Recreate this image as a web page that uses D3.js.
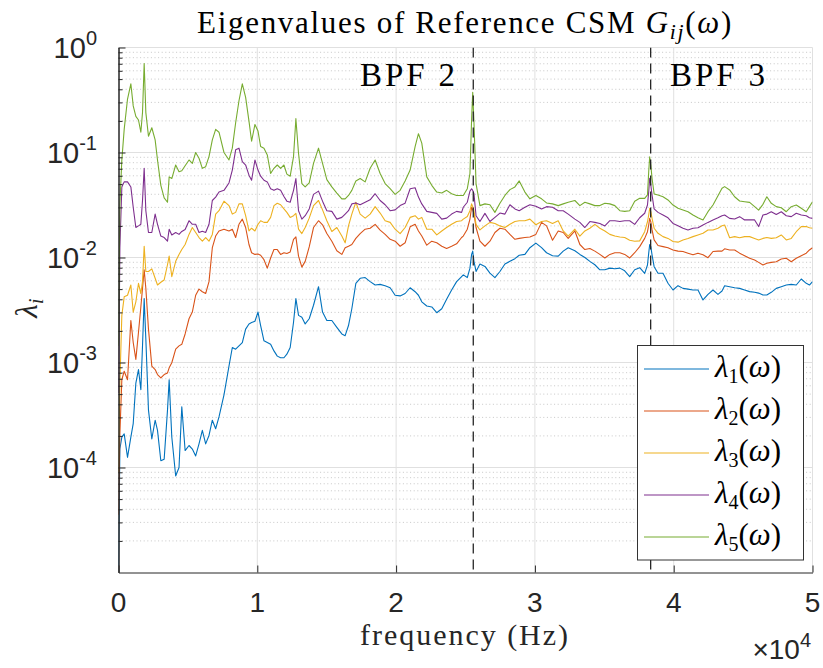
<!DOCTYPE html>
<html><head><meta charset="utf-8">
<script src="https://cdn.jsdelivr.net/npm/d3@7"></script>
<style>body{margin:0;background:#fff}</style>
</head><body>
<svg id="chart" width="823" height="668" xmlns="http://www.w3.org/2000/svg"></svg>
<script>
// ---------- DATA ----------
const freqHz = [0,100,240,410,650,890,1060,1250,1440,1610,1730,1850,1970,2160,2400,2640,2810,3050,3290,3530,3650,3840,4120,4360,4560,4800,5080,5320,5560,5800,6040,6280,6520,6760,7000,7240,7600,7960,8200,8440,8680,8920,9160,9400,9590,9830,10050,10240,10480,10720,10960,11200,11440,11680,11920,
12130,12370,12610,12780,12970,13210,13450,13740,14050,14410,14700,15010,15370,15730,16090,16330,16570,16810,17100,17410,17770,18130,18490,18850,19210,19570,19930,20290,20650,21010,21370,21610,21850,22210,22570,22930,23290,23640,24000,24360,24720,
24840,25130,25320,25440,25520,25610,25760,26040,26400,26760,27120,27480,27840,28200,28560,28870,29280,29640,30070,30480,30840,31270,31680,32040,32400,32880,33240,33600,33960,34320,34680,35040,35400,35760,36120,36470,36830,37190,
37550,37910,38110,38200,38270,38350,38440,38590,38870,39230,39590,39950,40310,40670,41030,41390,41750,42110,42470,42830,43190,43480,43670,44030,44390,44750,45110,45470,45830,46120,46430,46710,47030,47390,47750,48110,48470,48830,49190,49550,49780,50000];

const lambda1 = [0.0000116,0.00015,0.000195,0.000209,0.000125,0.000195,0.000262,0.000637,0.000857,0.00055,0.00144,0.00406,0.00167,0.000352,0.000187,0.000282,0.000226,0.000116,0.00012,0.000352,0.000685,0.000195,0.000083,0.0001,0.000379,0.000145,0.000162,0.00015,0.000129,0.000168,0.000226,0.000168,0.000202,0.000282,0.000234,0.000303,0.000492,0.000923,0.00139,0.00134,0.00144,0.00155,0.00208,0.00233,0.0024,0.00247,0.00302,0.00225,0.00161,0.00155,0.00149,0.00129,0.00115,0.00111,0.00111,
0.0012,0.00139,0.00242,0.00406,0.00281,0.0027,0.00233,0.00261,0.00351,0.00527,0.00302,0.00251,0.00251,0.00216,0.00187,0.0018,0.00225,0.00325,0.00568,0.00634,0.00644,0.00589,0.00547,0.00555,0.00538,0.00515,0.00437,0.00431,0.00454,0.00515,0.00472,0.00437,0.00378,0.00345,0.00338,0.00298,0.00325,0.00401,0.0049,0.00589,0.00658,
0.00683,0.00644,0.00792,0.0107,0.0115,0.00919,0.00736,0.00866,0.00822,0.0071,0.00644,0.00736,0.00866,0.00919,0.00975,0.0105,0.0107,0.0124,0.0137,0.0124,0.0111,0.0104,0.0103,0.0115,0.0124,0.0116,0.0107,0.01,0.00919,0.00853,0.00764,0.00764,0.00792,0.0078,0.00792,0.00747,0.00658,0.00764,
0.008,0.00707,0.00848,0.011,0.0133,0.0127,0.0106,0.00818,0.00707,0.00707,0.00568,0.0049,0.00539,0.00508,0.005,0.0049,0.0049,0.00394,0.00446,0.0049,0.00446,0.0048,0.00539,0.00527,0.00516,0.00508,0.0049,0.00473,0.00466,0.00458,0.0044,0.0044,0.00466,0.00508,0.00527,0.00547,0.00555,0.00547,0.00624,0.00568,0.00547,0.00589];

const lambda2 = [0.0000354,0.000209,0.000685,0.000826,0.000685,0.00251,0.00155,0.00107,0.00194,0.00338,0.00508,0.00764,0.00508,0.00208,0.000923,0.000857,0.000767,0.000713,0.000767,0.000796,0.000889,0.000994,0.00134,0.00144,0.00149,0.00187,0.00261,0.00302,0.00437,0.005,0.00472,0.00454,0.00589,0.0124,0.016,0.0179,0.0186,0.0179,0.0186,0.0155,0.0207,0.0232,0.0193,0.0133,0.0111,0.0107,0.0108,0.0105,0.00953,0.00792,0.0099,0.0119,0.0119,0.0107,0.0111,
0.0109,0.0113,0.0149,0.0157,0.0103,0.0081,0.00919,0.0126,0.0193,0.0224,0.0205,0.0169,0.0143,0.0116,0.0107,0.0124,0.0128,0.0133,0.0152,0.0169,0.0186,0.019,0.0207,0.0182,0.0166,0.0149,0.0143,0.0128,0.0138,0.0196,0.0207,0.0179,0.016,0.0131,0.0143,0.0138,0.0128,0.0122,0.0128,0.0135,0.0155,
0.016,0.0186,0.0232,0.0301,0.0284,0.0259,0.0193,0.0143,0.0128,0.0143,0.0173,0.019,0.0186,0.0166,0.0149,0.0152,0.0155,0.0157,0.0166,0.0216,0.02,0.0146,0.0179,0.0173,0.0152,0.0179,0.0133,0.0119,0.0122,0.0115,0.0107,0.0099,0.0107,0.0111,0.0111,0.0107,0.0099,0.0111,
0.0127,0.0152,0.0176,0.0204,0.0236,0.0219,0.0183,0.0147,0.013,0.0127,0.0124,0.0118,0.0115,0.0114,0.011,0.0106,0.011,0.0106,0.00996,0.0114,0.0115,0.0115,0.0121,0.0118,0.0118,0.011,0.0104,0.00982,0.00947,0.00899,0.00848,0.0088,0.00899,0.00912,0.00968,0.00982,0.00912,0.00982,0.0104,0.011,0.0118,0.0124];

const lambda3 = [0.0000893,0.000637,0.00281,0.00422,0.00437,0.00547,0.00302,0.00378,0.00568,0.00454,0.00589,0.0128,0.00736,0.00736,0.0078,0.00634,0.00547,0.00581,0.00611,0.00853,0.0103,0.00658,0.00919,0.0107,0.0119,0.0133,0.0166,0.0193,0.0173,0.0155,0.0143,0.0155,0.0143,0.0166,0.0259,0.0279,0.0344,0.0312,0.0259,0.0269,0.0324,0.0324,0.025,0.0179,0.019,0.0179,0.0207,0.0224,0.0216,0.0216,0.0241,0.0312,0.0329,0.0318,0.029,
0.0269,0.0241,0.025,0.0263,0.0186,0.0169,0.0193,0.0237,0.0312,0.0349,0.0284,0.0224,0.0177,0.0193,0.016,0.0138,0.02,0.0259,0.0336,0.0259,0.0237,0.0259,0.0305,0.0265,0.0224,0.0216,0.0186,0.0169,0.0193,0.0241,0.025,0.0232,0.0241,0.0186,0.0186,0.0164,0.0179,0.0193,0.0207,0.022,0.0224,
0.0232,0.0246,0.0279,0.0324,0.0305,0.0279,0.0207,0.0183,0.02,0.0216,0.0211,0.02,0.0193,0.0207,0.022,0.0224,0.0224,0.0232,0.0205,0.022,0.0224,0.0211,0.0224,0.0179,0.016,0.0186,0.016,0.0179,0.019,0.0207,0.019,0.0179,0.0166,0.016,0.0157,0.0155,0.0146,0.0143,
0.0144,0.0176,0.0219,0.0254,0.0294,0.0273,0.0236,0.019,0.017,0.0158,0.0152,0.0142,0.014,0.0147,0.0152,0.0158,0.0164,0.017,0.0183,0.0183,0.019,0.0201,0.0204,0.0154,0.0158,0.0154,0.0158,0.0158,0.0152,0.0147,0.0152,0.0155,0.0152,0.0154,0.0164,0.0147,0.0152,0.0176,0.0197,0.0197,0.0192,0.019];

const lambda4 = [0.000511,0.0124,0.047,0.0525,0.0525,0.047,0.0301,0.0193,0.02,0.0207,0.0349,0.0707,0.0279,0.0173,0.0173,0.0259,0.0207,0.016,0.0155,0.0143,0.0186,0.0164,0.0173,0.0166,0.0177,0.0185,0.0224,0.0207,0.0207,0.0173,0.0178,0.0173,0.0207,0.0349,0.0376,0.042,0.0436,0.0513,0.068,0.106,0.11,0.0819,0.076,0.0608,0.0544,0.0849,0.068,0.0595,0.0544,0.0525,0.0452,0.0436,0.0452,0.0436,0.0381,
0.0344,0.0336,0.0436,0.0565,0.0279,0.0232,0.025,0.029,0.0399,0.0429,0.0344,0.0279,0.0275,0.0232,0.0241,0.0259,0.0279,0.0324,0.0331,0.0318,0.0336,0.0354,0.0405,0.0349,0.0318,0.0279,0.0284,0.0312,0.0329,0.0452,0.0462,0.0376,0.0324,0.0275,0.0269,0.0263,0.0232,0.0237,0.0259,0.0275,0.0269,
0.0301,0.0336,0.0429,0.0452,0.0436,0.0405,0.025,0.022,0.0263,0.022,0.0241,0.0265,0.0259,0.0318,0.029,0.0279,0.0301,0.0318,0.0308,0.029,0.0305,0.0301,0.0279,0.0279,0.0259,0.0232,0.0216,0.0193,0.022,0.0216,0.0211,0.02,0.0224,0.0224,0.022,0.0224,0.0224,0.0207,
0.0239,0.0264,0.0316,0.0424,0.0568,0.049,0.0394,0.029,0.0269,0.0254,0.0239,0.0211,0.0201,0.019,0.0183,0.019,0.0192,0.0204,0.0216,0.0228,0.0239,0.025,0.0254,0.0236,0.0233,0.0245,0.0228,0.0228,0.0228,0.0197,0.0254,0.0259,0.0273,0.0257,0.0273,0.025,0.0245,0.0264,0.0254,0.025,0.0239,0.0236];

const lambda5 = [0.00144,0.0324,0.0849,0.166,0.323,0.451,0.278,0.221,0.204,0.156,0.24,0.703,0.24,0.143,0.172,0.132,0.0849,0.0487,0.037,0.0336,0.0586,0.0565,0.076,0.0655,0.067,0.0748,0.0849,0.0789,0.1,0.0881,0.0707,0.0733,0.0915,0.132,0.166,0.156,0.1,0.0849,0.11,0.192,0.311,0.451,0.335,0.199,0.128,0.185,0.16,0.114,0.11,0.0949,0.0631,0.0707,0.076,0.0707,0.076,
0.0622,0.0595,0.0915,0.21,0.0985,0.0506,0.047,0.0513,0.0789,0.11,0.0789,0.0552,0.047,0.0411,0.0362,0.0362,0.039,0.0436,0.0536,0.0565,0.0525,0.0707,0.0849,0.0631,0.0506,0.0452,0.0399,0.0436,0.0536,0.068,0.114,0.151,0.123,0.0586,0.0487,0.042,0.0411,0.0436,0.0405,0.039,0.039,
0.039,0.0452,0.0631,0.207,0.374,0.192,0.0506,0.0312,0.0324,0.0318,0.0269,0.0329,0.039,0.0443,0.047,0.0536,0.042,0.0362,0.039,0.0362,0.0331,0.0324,0.0312,0.0324,0.0336,0.0349,0.0312,0.0336,0.0324,0.0312,0.0312,0.0329,0.0324,0.0312,0.0279,0.0275,0.0279,0.0344,
0.0366,0.0366,0.0394,0.0657,0.0912,0.076,0.0568,0.0403,0.0394,0.0379,0.0353,0.0316,0.0294,0.0283,0.0273,0.0254,0.0239,0.0228,0.0273,0.0316,0.0388,0.0456,0.0473,0.044,0.0379,0.0345,0.034,0.0335,0.0305,0.0283,0.0321,0.0379,0.0328,0.0305,0.0298,0.0273,0.0305,0.0316,0.0294,0.0273,0.0305,0.034];

const seriesValues = [lambda1, lambda2, lambda3, lambda4, lambda5];
const seriesSubscripts = ["1","2","3","4","5"];
const seriesColors = ["#0072BD","#D95319","#EDB120","#7E2F8E","#77AC30"];
const bpfFreqs = [25560, 38340];
const bpfLabels = ["BPF 2", "BPF 3"];
const xTicks = [0, 10000, 20000, 30000, 40000, 50000];
const xTickLabels = ["0","1","2","3","4","5"];
const yTicks = [1e-4, 1e-3, 1e-2, 1e-1, 1];
const yTickExponents = ["-4","-3","-2","-1","0"];

// ---------- CHART ----------
const svg = d3.select("#chart");
const serif = "'Liberation Serif','Times New Roman',serif";
const sans = "'Liberation Sans',Arial,Helvetica,sans-serif";
const L = 118.5, R = 812.5, T = 47.5, B = 572.5;
const x = d3.scaleLinear().domain([0, 50000]).range([L, R]);
const y = d3.scaleLog().domain([1e-5, 1]).range([B, T]);

// scale font so the text reaches a target width
function fitWidth(sel, target, maxSize) {
  const w = sel.node().getBBox().width;
  const fs = parseFloat(sel.attr("font-size"));
  if (w > 0) sel.attr("font-size", Math.min(maxSize || 99, fs * target / w));
}
// then widen the remainder by letter spacing
function fitSpacing(sel, target) {
  const w = sel.node().getBBox().width;
  const n = sel.text().length;
  if (w > 0 && w < target) sel.attr("letter-spacing", ((target - w) / n).toFixed(2));
}

// minor grid values (positions of log minor ticks)
const minorVals = [];
y.ticks().forEach(v => { const m = Math.round(v / Math.pow(10, Math.floor(Math.log10(v) + 1e-9))); if (m !== 1) minorVals.push(v); });

const grid = svg.append("g");
grid.selectAll("line.ymin").data(minorVals).join("line")
  .attr("x1", L).attr("x2", R).attr("y1", d => y(d)).attr("y2", d => y(d))
  .attr("stroke", "#c2c2c2").attr("stroke-width", 0.9).attr("stroke-dasharray", "1,2.6");
grid.selectAll("line.ymaj").data(yTicks).join("line")
  .attr("x1", L).attr("x2", R).attr("y1", d => y(d)).attr("y2", d => y(d))
  .attr("stroke", "#e0e0e0").attr("stroke-width", 1);
grid.selectAll("line.xmaj").data(xTicks.slice(1)).join("line")
  .attr("y1", T).attr("y2", B).attr("x1", d => x(d)).attr("x2", d => x(d))
  .attr("stroke", "#e0e0e0").attr("stroke-width", 1);

// clip
svg.append("defs").append("clipPath").attr("id", "clip").append("rect")
  .attr("x", L).attr("y", T).attr("width", R - L).attr("height", B - T);

const line = d3.line().x(d => x(d[0])).y(d => y(d[1]));
const plot = svg.append("g").attr("clip-path", "url(#clip)");
seriesValues.forEach((vals, i) => {
  plot.append("path").datum(freqHz.map((f, k) => [f, vals[k]]))
    .attr("d", line).attr("fill", "none").attr("stroke", seriesColors[i])
    .attr("stroke-width", 1.1).attr("stroke-linejoin", "round");
});

// BPF dashed lines
plot.selectAll("line.bpf").data(bpfFreqs).join("line")
  .attr("x1", d => x(d)).attr("x2", d => x(d)).attr("y1", T).attr("y2", B)
  .attr("stroke", "#262626").attr("stroke-width", 1.3).attr("stroke-dasharray", "10,6");

// axes
const axL = svg.append("g").attr("transform", `translate(${L},0)`)
  .call(d3.axisLeft(y).tickValues(yTicks).tickSize(-7).tickSizeOuter(0).tickFormat(""));
const axLm = svg.append("g").attr("transform", `translate(${L},0)`)
  .call(d3.axisLeft(y).tickValues(minorVals).tickSize(-4).tickSizeOuter(0).tickFormat(""));
const axB = svg.append("g").attr("transform", `translate(0,${B})`)
  .call(d3.axisBottom(x).tickValues(xTicks).tickSize(-7).tickSizeOuter(0).tickFormat(""));
[axL, axLm, axB].forEach(a => { a.selectAll("path,line").attr("stroke", "#262626").attr("stroke-width", 1); });

// y tick labels
yTicks.forEach((v, i) => {
  const t = svg.append("text").attr("x", 97).attr("y", y(v) + 10.5)
    .attr("text-anchor", "end").attr("font-family", sans).attr("font-size", 29).attr("fill", "#262626");
  t.append("tspan").text("10");
  t.append("tspan").attr("font-size", 20).attr("dy", -13).text(yTickExponents[i]);
});
// x tick labels
svg.selectAll("text.xt").data(xTicks).join("text")
  .attr("x", d => x(d)).attr("y", 612).attr("text-anchor", "middle")
  .attr("font-family", sans).attr("font-size", 28).attr("fill", "#262626")
  .text((d, i) => xTickLabels[i]);
// x10^4
const mult = svg.append("text").attr("x", 811).attr("y", 659).attr("text-anchor", "end")
  .attr("font-family", sans).attr("font-size", 28).attr("fill", "#262626");
mult.append("tspan").text("\u00d710");
mult.append("tspan").attr("font-size", 20).attr("dy", -12).text("4");

// title
const title = svg.append("text").attr("x", 465).attr("y", 33).attr("text-anchor", "middle")
  .attr("font-family", serif).attr("font-size", 28).attr("fill", "#000");
title.append("tspan").text("Eigenvalues of Reference CSM ");
title.append("tspan").attr("font-style", "italic").text("G");
title.append("tspan").attr("font-style", "italic").attr("font-size", "0.7em").attr("dy", 6).text("ij");
title.append("tspan").attr("dy", -6).text("(");
title.append("tspan").attr("font-style", "italic").text("\u03c9");
title.append("tspan").text(")");
fitWidth(title, 536, 31);
fitSpacing(title, 536);

// x label
const xl = svg.append("text").attr("x", 465).attr("y", 645).attr("text-anchor", "middle")
  .attr("font-family", serif).attr("font-size", 30).attr("fill", "#262626").text("frequency (Hz)");
fitWidth(xl, 210, 30);
fitSpacing(xl, 210);

// y label
const yl = svg.append("text").attr("transform", "translate(37,308) rotate(-90)").attr("text-anchor", "middle")
  .attr("font-family", serif).attr("font-size", 31).attr("fill", "#262626");
yl.append("tspan").attr("font-style", "italic").text("\u03bb");
yl.append("tspan").attr("font-style", "italic").attr("font-size", 21).attr("dy", 6).text("i");

// BPF labels
bpfLabels.forEach((lab, i) => {
  const t = svg.append("text").attr("font-family", serif).attr("font-size", 30).attr("fill", "#000")
    .attr("x", i === 0 ? 360 : 670).attr("y", 86).text(lab);
  fitWidth(t, 98, 33);
  fitSpacing(t, 98);
});

// legend
const lg = svg.append("g");
lg.append("rect").attr("x", 637.5).attr("y", 345.5).attr("width", 166).attr("height", 214.5)
  .attr("fill", "#fff").attr("stroke", "#333").attr("stroke-width", 1);
seriesSubscripts.forEach((s, i) => {
  const yy = 369 + i * 42;
  lg.append("line").attr("x1", 644).attr("x2", 709).attr("y1", yy).attr("y2", yy)
    .attr("stroke", seriesColors[i]).attr("stroke-width", 1.1);
  const t = lg.append("text").attr("x", 715).attr("y", yy + 8).attr("font-family", serif)
    .attr("font-size", 29).attr("fill", "#000");
  t.append("tspan").attr("font-style", "italic").text("\u03bb");
  t.append("tspan").attr("font-size", 20).attr("dy", 6).text(s);
  t.append("tspan").attr("dy", -6).text("(");
  t.append("tspan").attr("font-style", "italic").text("\u03c9");
  t.append("tspan").text(")");
  fitWidth(t, 78, 31);
});
</script>
</body></html>
